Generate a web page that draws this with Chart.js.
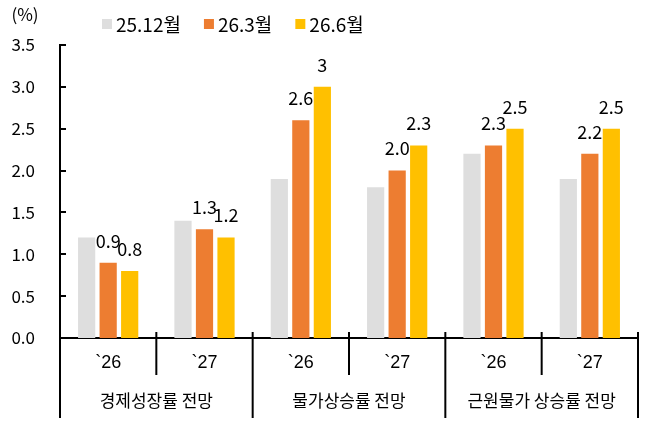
<!DOCTYPE html>
<html>
<head>
<meta charset="utf-8">
<script src="https://cdn.jsdelivr.net/npm/chart.js@4.4.1/dist/chart.umd.min.js"></script>
<style>
    html, body { margin: 0; padding: 0; background: #fff; }
</style>
</head>
<body>
<canvas id="chart" width="646" height="430"></canvas>
<script>
// data
const categories = ['`26', '`27', '`26', '`27', '`26', '`27'];
const groups = ['경제성장률 전망', '물가상승률 전망', '근원물가 상승률 전망'];
const seriesNames = ['25.12월', '26.3월', '26.6월'];
const dec25 = [1.2, 1.4, 1.9, 1.8, 2.2, 1.9];
const mar26 = [0.9, 1.3, 2.6, 2.0, 2.3, 2.2];
const jun26 = [0.8, 1.2, 3.0, 2.3, 2.5, 2.5];
const mar26Labels = ['0.9', '1.3', '2.6', '2.0', '2.3', '2.2'];
const jun26Labels = ['0.8', '1.2', '3', '2.3', '2.5', '2.5'];
const yTicks = [0, 0.5, 1.0, 1.5, 2.0, 2.5, 3.0, 3.5];

const colors = ['#dedede', '#ed7d31', '#ffc000'];
const FONT = "'Noto Sans CJK KR', 'Noto Sans', sans-serif";

// axis decorations, value labels, legend and unit
const decor = {
    id: 'decor',
    afterDraw(chart) {
        const ctx = chart.ctx;
        const x = chart.scales.x;
        const y = chart.scales.y;
        const area = chart.chartArea;
        ctx.save();
        ctx.strokeStyle = '#000';
        ctx.lineWidth = 2;

        // y tick marks (inside)
        yTicks.forEach(v => {
            const py = Math.round(y.getPixelForValue(v));
            ctx.beginPath();
            ctx.moveTo(area.left, py);
            ctx.lineTo(area.left + 6, py);
            ctx.stroke();
        });

        // category separators and group separators
        const half = (x.getPixelForValue(1) - x.getPixelForValue(0)) / 2;
        for (let i = 0; i <= categories.length; i++) {
            const bx = i < categories.length ? x.getPixelForValue(i) - half : x.getPixelForValue(i - 1) + half;
            const longLine = i % 2 === 0;
            ctx.beginPath();
            ctx.moveTo(bx, i === 0 ? area.bottom : area.bottom - 6);
            ctx.lineTo(bx, longLine ? 418 : 375);
            ctx.stroke();
        }

        ctx.fillStyle = '#000';
        ctx.textAlign = 'center';
        ctx.textBaseline = 'middle';

        // group labels
        ctx.font = '17px ' + FONT;
        groups.forEach((g, gi) => {
            const cx = (x.getPixelForValue(gi * 2) + x.getPixelForValue(gi * 2 + 1)) / 2;
            ctx.fillText(g, cx, 401);
        });

        // unit
        ctx.fillText('(%)', 25, 15);

        // value labels on 26.3 and 26.6 series
        ctx.font = '18px ' + FONT;
        [[1, mar26Labels], [2, jun26Labels]].forEach(([di, labels]) => {
            chart.getDatasetMeta(di).data.forEach((bar, i) => {
                ctx.fillText(labels[i], bar.x, bar.y - 22);
            });
        });

        // legend
        ctx.font = '19px ' + FONT;
        ctx.textAlign = 'left';
        let lx = 102;
        seriesNames.forEach((name, i) => {
            ctx.fillStyle = colors[i];
            ctx.fillRect(lx, 19, 10, 10);
            ctx.fillStyle = '#000';
            ctx.fillText(name, lx + 14, 25);
            lx += 14 + ctx.measureText(name).width + 23;
        });
        ctx.restore();
    }
};

new Chart(document.getElementById('chart'), {
    type: 'bar',
    data: {
        labels: categories,
        datasets: [
            { label: seriesNames[0], data: dec25, backgroundColor: colors[0] },
            { label: seriesNames[1], data: mar26, backgroundColor: colors[1] },
            { label: seriesNames[2], data: jun26, backgroundColor: colors[2] }
        ]
    },
    options: {
        responsive: false,
        animation: false,
        devicePixelRatio: 1,
        events: [],
        layout: { padding: { top: 45, right: 8, left: 0, bottom: 0 } },
        datasets: { bar: { categoryPercentage: 0.67, barPercentage: 0.8 } },
        plugins: { legend: { display: false }, tooltip: { enabled: false } },
        scales: {
            x: {
                afterFit(s) { s.height = 92; },
                grid: { display: false, drawTicks: false },
                border: { display: true, color: '#000', width: 2 },
                ticks: { color: '#000', font: { family: "'Liberation Sans', sans-serif", size: 18 }, padding: 14, maxRotation: 0, autoSkip: false }
            },
            y: {
                min: 0,
                max: 3.5,
                afterFit(s) { s.width = 60; },
                afterBuildTicks(s) { s.ticks = yTicks.map(v => ({ value: v })); },
                grid: { display: false, drawTicks: false },
                border: { display: true, color: '#000', width: 2 },
                ticks: { color: '#000', font: { family: FONT, size: 17 }, padding: 25, callback: v => v.toFixed(1) }
            }
        }
    },
    plugins: [decor]
});
</script>
</body>
</html>
